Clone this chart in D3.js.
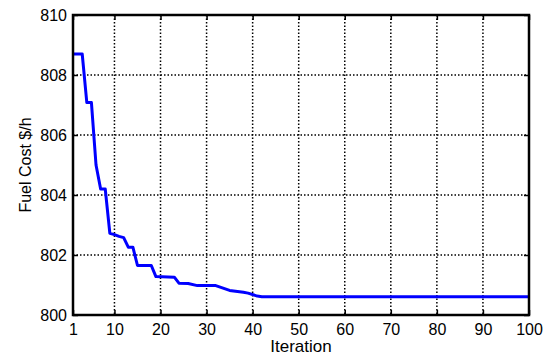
<!DOCTYPE html>
<html>
<head>
<meta charset="utf-8">
<script src="https://cdn.jsdelivr.net/npm/d3@7"></script>
<style>
  body { margin: 0; background: #fff; }
  svg text { font-family: "Liberation Sans", Arial, sans-serif; }
</style>
</head>
<body>
<div id="chart"></div>
<script>
// convergence curve (breakpoints of the best-so-far cost)
var iterations = [1, 3, 4, 5, 6, 7, 8, 9, 10, 11, 12, 13, 14, 15, 18, 19, 23, 24, 26, 28, 32, 35, 38, 39, 41, 42, 100];
var fuelCost = [808.7, 808.7, 807.08, 807.08, 805.0, 804.2, 804.2, 802.72, 802.68, 802.62, 802.58, 802.26, 802.26,
                801.65, 801.65, 801.28, 801.26, 801.06, 801.05, 800.98, 800.98, 800.82, 800.76, 800.73, 800.63, 800.61, 800.61];
var xTicks = [1, 10, 20, 30, 40, 50, 60, 70, 80, 90, 100];
var yTicks = [800, 802, 804, 806, 808, 810];

var margin = {top: 15, right: 22, bottom: 43, left: 73},
    width = 551 - margin.left - margin.right,
    height = 358 - margin.top - margin.bottom;

var svg = d3.select("#chart").append("svg")
    .attr("width", 551)
    .attr("height", 358)
  .append("g")
    .attr("transform", `translate(${margin.left},${margin.top})`);

var x = d3.scaleLinear().domain([1, 100]).range([0, width]);
var y = d3.scaleLinear().domain([800, 810]).range([height, 0]);

// dotted grid
svg.append("g")
  .selectAll("line")
  .data(xTicks.slice(1, -1))
  .enter().append("line")
    .attr("x1", d => x(d)).attr("x2", d => x(d))
    .attr("y1", 0).attr("y2", height)
    .attr("stroke", "#000").attr("stroke-width", 1.5)
    .attr("stroke-dasharray", "1.5,2");

svg.append("g")
  .selectAll("line")
  .data(yTicks.slice(1, -1))
  .enter().append("line")
    .attr("x1", 0).attr("x2", width)
    .attr("y1", d => y(d)).attr("y2", d => y(d))
    .attr("stroke", "#000").attr("stroke-width", 1.5)
    .attr("stroke-dasharray", "1.5,2");

// data line
var line = d3.line()
  .x((d, i) => x(iterations[i]))
  .y(d => y(d));

svg.append("path")
  .datum(fuelCost)
  .attr("fill", "none")
  .attr("stroke", "#0000ff")
  .attr("stroke-width", 3)
  .attr("stroke-linejoin", "round")
  .attr("d", line);

// axes, ticks pointing inward (box on)
var tickLen = 5;

var xAxis = d3.axisBottom(x).tickValues(xTicks).tickSizeInner(-tickLen).tickSizeOuter(0).tickPadding(9);
svg.append("g")
  .attr("transform", `translate(0,${height})`)
  .call(xAxis);

var yAxis = d3.axisLeft(y).tickValues(yTicks).tickSizeInner(-tickLen).tickSizeOuter(0).tickPadding(6);
svg.append("g").call(yAxis);

svg.append("g")
  .call(d3.axisTop(x).tickValues(xTicks).tickSizeInner(-tickLen).tickSizeOuter(0).tickFormat(""));
svg.append("g")
  .attr("transform", `translate(${width},0)`)
  .call(d3.axisRight(y).tickValues(yTicks).tickSizeInner(-tickLen).tickSizeOuter(0).tickFormat(""));

svg.selectAll(".domain").remove();
svg.selectAll(".tick line").attr("stroke", "#000").attr("stroke-width", 1.5);
svg.selectAll(".tick text")
  .attr("fill", "#000")
  .style("font-size", "16px");

svg.append("rect")
  .attr("width", width)
  .attr("height", height)
  .attr("fill", "none")
  .attr("stroke", "#000")
  .attr("stroke-width", 2.5);

// labels
svg.append("text")
  .attr("x", width / 2)
  .attr("y", height + 37)
  .attr("text-anchor", "middle")
  .style("font-size", "17px")
  .text("Iteration");

svg.append("text")
  .attr("transform", "rotate(-90)")
  .attr("x", -150)
  .attr("y", -42)
  .attr("text-anchor", "middle")
  .style("font-size", "16px")
  .text("Fuel Cost $/h");
</script>
</body>
</html>
